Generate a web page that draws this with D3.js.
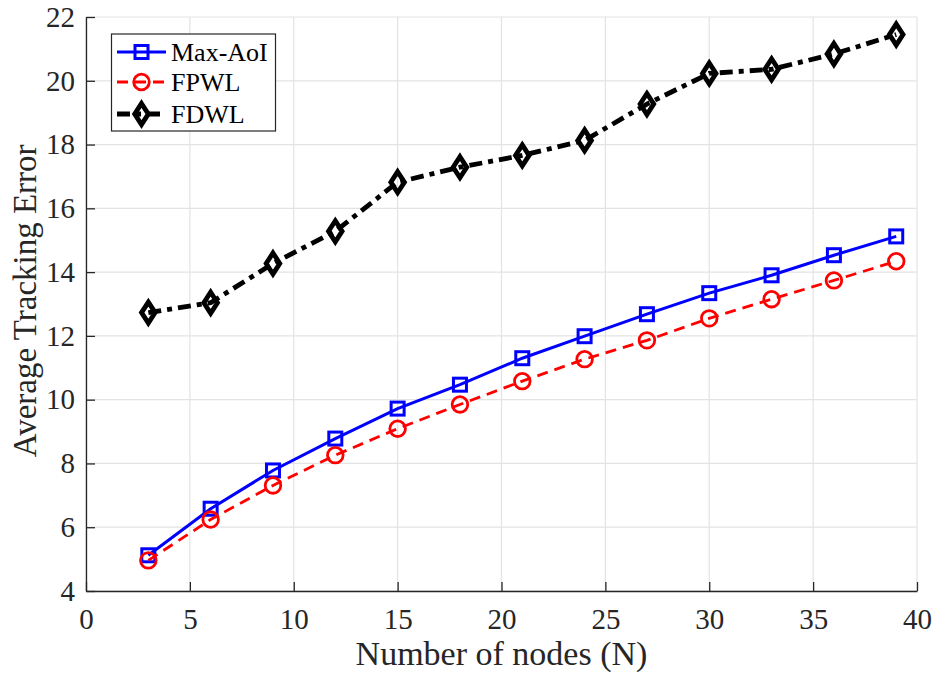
<!DOCTYPE html>
<html>
<head>
<meta charset="utf-8">
<script src="https://cdn.jsdelivr.net/npm/d3@7"></script>
<style>
  body { margin: 0; background: #fff; }
  svg { display: block; font-family: "Liberation Serif", "Times New Roman", serif; }
</style>
</head>
<body>
<script>
// number of nodes
const nodes = [3, 6, 9, 12, 15, 18, 21, 24, 27, 30, 33, 36, 39];
// average tracking error per scheme
const maxAoI = [5.12, 6.58, 7.78, 8.78, 9.72, 10.47, 11.30, 11.99, 12.68, 13.34, 13.90, 14.53, 15.12];
const fpwl = [4.96, 6.24, 7.31, 8.26, 9.09, 9.85, 10.58, 11.27, 11.86, 12.55, 13.15, 13.74, 14.34];
const fdwl = [12.73, 13.04, 14.27, 15.28, 16.82, 17.29, 17.66, 18.13, 19.27, 20.23, 20.36, 20.84, 21.45];
const seriesNames = ["Max-AoI", "FPWL", "FDWL"];
const xTicks = [0, 5, 10, 15, 20, 25, 30, 35, 40];
const yTicks = [4, 6, 8, 10, 12, 14, 16, 18, 20, 22];

const width = 934, height = 673;
const margin = {left: 86, right: 17, top: 17, bottom: 82};

const svg = d3.select("body").append("svg")
    .attr("width", width)
    .attr("height", height);

const x = d3.scaleLinear().domain([0, 40]).range([margin.left, width - margin.right]);
const y = d3.scaleLinear().domain([4, 22]).range([height - margin.bottom, margin.top]);

// grid
const grid = svg.append("g").attr("stroke", "#e3e3e3").attr("stroke-width", 1.2);
grid.selectAll("line.gx").data(xTicks).enter().append("line")
    .attr("x1", d => x(d)).attr("x2", d => x(d))
    .attr("y1", y(4)).attr("y2", y(22));
grid.selectAll("line.gy").data(yTicks).enter().append("line")
    .attr("x1", x(0)).attr("x2", x(40))
    .attr("y1", d => y(d)).attr("y2", d => y(d));

// axes (MATLAB style, box off, ticks inside)
const xAxis = d3.axisBottom(x).tickValues(xTicks).tickSize(-9).tickSizeOuter(0).tickPadding(17);
const yAxis = d3.axisLeft(y).tickValues(yTicks).tickSize(-9).tickSizeOuter(0).tickPadding(11);

const gx = svg.append("g").attr("transform", "translate(0," + y(4) + ")").call(xAxis);
const gy = svg.append("g").attr("transform", "translate(" + x(0) + ",0)").call(yAxis);
[gx, gy].forEach(g => {
    g.select(".domain").attr("stroke", "#262626").attr("stroke-width", 1.3);
    g.selectAll(".tick line").attr("stroke", "#262626").attr("stroke-width", 1.3);
    g.selectAll(".tick text").attr("fill", "#262626")
        .style("font-family", "Liberation Serif").style("font-size", "29px");
});
gx.selectAll(".tick text").attr("dy", "0.71em");

// axis labels
svg.append("text")
    .attr("x", x(20)).attr("y", 665)
    .attr("text-anchor", "middle")
    .attr("fill", "#262626")
    .style("font-size", "34px")
    .text("Number of nodes (N)");

svg.append("text")
    .attr("transform", "translate(36," + y(13.1) + ") rotate(-90)")
    .attr("text-anchor", "middle")
    .attr("fill", "#262626")
    .style("font-size", "33px")
    .text("Average Tracking Error");

const line = d3.line().x(d => x(d[0])).y(d => y(d[1]));

const styles = [
    {name: seriesNames[0], values: maxAoI, color: "#0000ff", width: 3, dash: null, marker: "square"},
    {name: seriesNames[1], values: fpwl, color: "#ff0000", width: 2.8, dash: "11,7", marker: "circle"},
    {name: seriesNames[2], values: fdwl, color: "#000000", width: 4.8, dash: "13,6,5,6", marker: "diamond"}
];

function drawMarker(g, type, cx, cy, color, sw) {
    if (type === "square") {
        g.append("rect").attr("x", cx - 6.5).attr("y", cy - 6.5)
            .attr("width", 13).attr("height", 13)
            .attr("fill", "none").attr("stroke", color).attr("stroke-width", sw);
    } else if (type === "circle") {
        g.append("circle").attr("cx", cx).attr("cy", cy).attr("r", 7.8)
            .attr("fill", "none").attr("stroke", color).attr("stroke-width", sw);
    } else {
        g.append("path")
            .attr("d", `M${cx},${cy - 10.5}L${cx + 6.8},${cy}L${cx},${cy + 10.5}L${cx - 6.8},${cy}Z`)
            .attr("fill", "none").attr("stroke", color).attr("stroke-width", sw)
            .attr("stroke-linejoin", "miter");
    }
}

styles.forEach(s => {
    const pts = nodes.map((n, i) => [n, s.values[i]]);
    svg.append("path")
        .datum(pts)
        .attr("d", line)
        .attr("fill", "none")
        .attr("stroke", s.color)
        .attr("stroke-width", s.width)
        .attr("stroke-dasharray", s.dash);
    const mg = svg.append("g");
    pts.forEach(p => drawMarker(mg, s.marker, x(p[0]), y(p[1]), s.color, s.width));
});

// legend
const legend = svg.append("g");
legend.append("rect")
    .attr("x", 111.5).attr("y", 34)
    .attr("width", 164).attr("height", 97)
    .attr("fill", "#fff").attr("stroke", "#262626").attr("stroke-width", 1.2);

const rowY = [52, 82, 114];
styles.forEach((s, i) => {
    const ly = rowY[i];
    legend.append("line")
        .attr("x1", 117).attr("x2", 166)
        .attr("y1", ly).attr("y2", ly)
        .attr("stroke", s.color).attr("stroke-width", s.width)
        .attr("stroke-dasharray", s.dash);
    drawMarker(legend, s.marker, 141.5, ly, s.color, s.width);
    legend.append("text")
        .attr("x", 171).attr("y", ly + 9)
        .attr("fill", "#000")
        .style("font-size", "26px")
        .text(s.name);
});
</script>
</body>
</html>
